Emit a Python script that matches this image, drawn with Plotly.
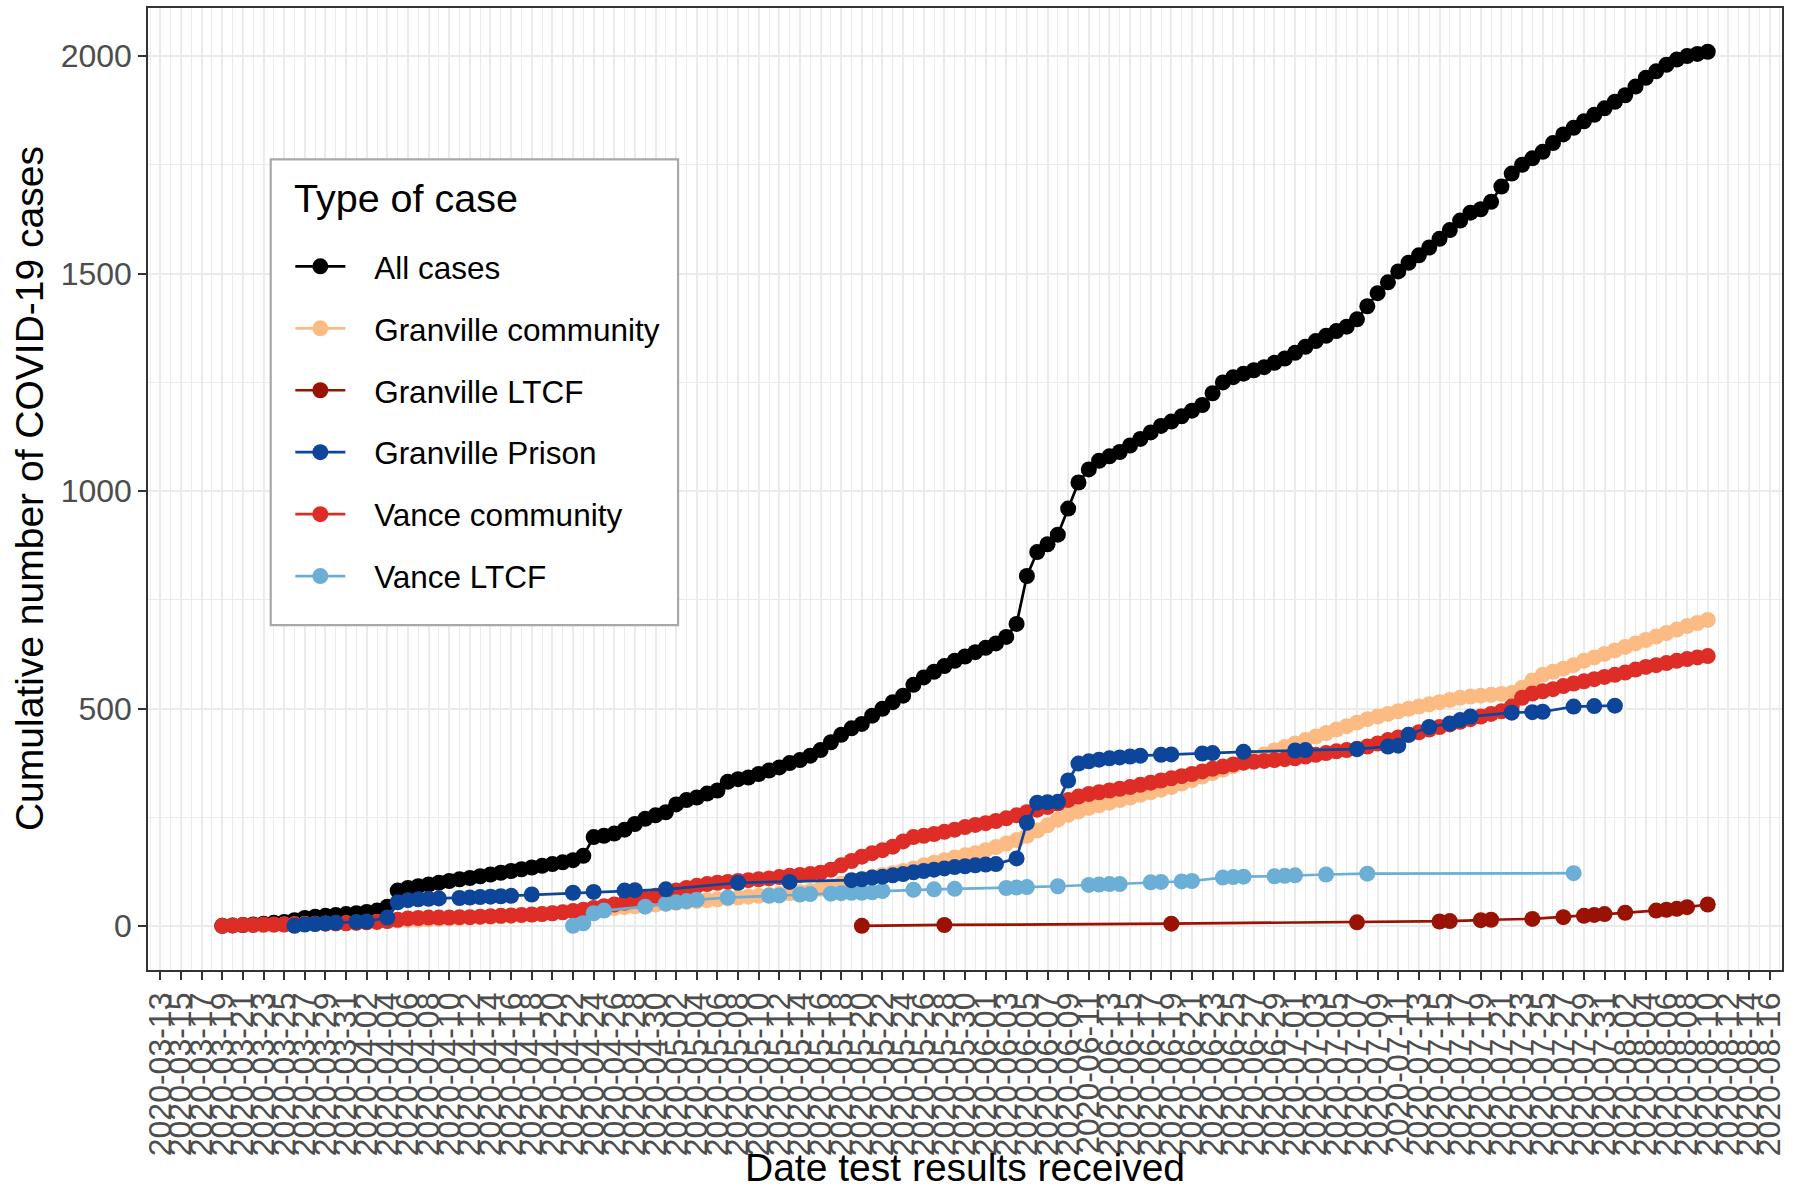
import pandas as pd
import plotly.graph_objects as go

# ---------------- data ----------------
ALL_START = "2020-03-19"   # daily points
ALL_CASES = [
    1, 2, 3, 4, 6, 8, 10, 14, 19, 22,
    24, 26, 28, 30, 33, 36, 45, 82, 88, 92,
    96, 100, 104, 108, 111, 115, 119, 123, 127, 131,
    135, 139, 143, 147, 152, 162, 205, 208, 213, 222,
    235, 247, 255, 262, 280, 290, 296, 305, 312, 332,
    338, 342, 350, 358, 365, 375, 382, 392, 405, 423,
    440, 455, 465, 484, 500, 515, 530, 555, 572, 585,
    598, 610, 620, 630, 640, 650, 665, 695, 805, 860,
    878, 900, 960, 1020, 1050, 1070, 1080, 1090, 1105, 1120,
    1135, 1150, 1160, 1172, 1185, 1198, 1225, 1250, 1262, 1270,
    1278, 1285, 1295, 1305, 1318, 1332, 1345, 1357, 1368, 1378,
    1395, 1425, 1455, 1480, 1505, 1525, 1542, 1560, 1580, 1600,
    1622, 1640, 1648, 1665, 1700, 1730, 1750, 1765, 1780, 1800,
    1820, 1835, 1850, 1865, 1880, 1895, 1910, 1930, 1950, 1965,
    1980, 1992, 2000, 2005, 2010,
]

VANCE_COMMUNITY_START = "2020-03-19"   # daily points
VANCE_COMMUNITY = [
    1, 2, 3, 3, 4, 4, 4, 5, 5, 6,
    6, 7, 7, 8, 9, 10, 12, 15, 18, 19,
    20, 20, 20, 21, 21, 22, 23, 24, 25, 26,
    27, 28, 30, 32, 35, 38, 42, 46, 50, 54,
    58, 63, 70, 76, 82, 88, 93, 97, 100, 102,
    104, 106, 108, 110, 113, 116, 118, 120, 123, 130,
    140, 150, 160, 168, 175, 183, 195, 205, 208, 212,
    217, 222, 228, 233, 237, 242, 248, 255, 262, 268,
    274, 282, 290, 298, 304, 308, 312, 316, 320, 325,
    330, 335, 340, 345, 350, 356, 362, 367, 372, 376,
    378, 380, 382, 384, 386, 390, 394, 398, 402, 405,
    408, 413, 420, 428, 434, 440, 446, 452, 458, 464,
    470, 476, 482, 488, 494, 505, 525, 535, 540, 545,
    552, 558, 563, 568, 573, 578, 583, 590, 596, 600,
    605, 610, 614, 618, 621,
]

GRANVILLE_COMMUNITY_START = "2020-03-23"   # daily points
GRANVILLE_COMMUNITY = [
    2, 3, 4, 4, 5, 5, 6, 6, 7, 8,
    9, 10, 12, 13, 14, 15, 16, 17, 18, 19,
    20, 21, 22, 23, 24, 25, 26, 28, 30, 32,
    34, 36, 38, 40, 42, 44, 46, 48, 50, 52,
    54, 56, 58, 60, 62, 64, 66, 68, 70, 72,
    74, 76, 78, 81, 86, 92, 98, 103, 108, 113,
    118, 122, 127, 133, 140, 146, 152, 158, 163, 168,
    175, 182, 190, 198, 208, 220, 232, 245, 256, 264,
    272, 278, 284, 290, 296, 302, 308, 314, 320, 328,
    336, 344, 352, 360, 368, 376, 386, 395, 404, 412,
    420, 428, 436, 444, 452, 460, 468, 476, 482, 488,
    494, 500, 505, 510, 515, 520, 525, 528, 530, 532,
    534, 536, 548, 565, 578, 585, 592, 600, 610, 618,
    626, 634, 642, 650, 658, 666, 674, 682, 690, 697,
    704,
]

GRANVILLE_LTCF_DATES = [
    "2020-05-20", "2020-05-28", "2020-06-19", "2020-07-07", "2020-07-15",
    "2020-07-16", "2020-07-19", "2020-07-20", "2020-07-24", "2020-07-27",
    "2020-07-29", "2020-07-30", "2020-07-31", "2020-08-02", "2020-08-05",
    "2020-08-06", "2020-08-07", "2020-08-08", "2020-08-10",
]
GRANVILLE_LTCF = [1, 3, 6, 9, 11, 12, 14, 15, 17, 21, 24, 26, 28, 31, 36, 38, 40, 44, 50]

GRANVILLE_PRISON_DATES = [
    "2020-03-26", "2020-03-27", "2020-03-28", "2020-03-29", "2020-03-30",
    "2020-04-01", "2020-04-02", "2020-04-04", "2020-04-05", "2020-04-06",
    "2020-04-07", "2020-04-08", "2020-04-09", "2020-04-11", "2020-04-12",
    "2020-04-13", "2020-04-14", "2020-04-15", "2020-04-16", "2020-04-18",
    "2020-04-22", "2020-04-24", "2020-04-27", "2020-04-28", "2020-05-01",
    "2020-05-08", "2020-05-13", "2020-05-19", "2020-05-20", "2020-05-21",
    "2020-05-22", "2020-05-23", "2020-05-24", "2020-05-25", "2020-05-26",
    "2020-05-27", "2020-05-28", "2020-05-29", "2020-05-30", "2020-05-31",
    "2020-06-01", "2020-06-02", "2020-06-04", "2020-06-05", "2020-06-06",
    "2020-06-07", "2020-06-08", "2020-06-09", "2020-06-10", "2020-06-11",
    "2020-06-12", "2020-06-13", "2020-06-14", "2020-06-15", "2020-06-16",
    "2020-06-18", "2020-06-19", "2020-06-22", "2020-06-23", "2020-06-26",
    "2020-07-01", "2020-07-02", "2020-07-07", "2020-07-10", "2020-07-11",
    "2020-07-12", "2020-07-14", "2020-07-16", "2020-07-17", "2020-07-18",
    "2020-07-22", "2020-07-24", "2020-07-25", "2020-07-28", "2020-07-30",
    "2020-08-01",
]
GRANVILLE_PRISON = [
    1, 4, 5, 7, 8, 10, 11, 20, 55, 60,
    62, 63, 64, 65, 66, 67, 68, 69, 70, 73,
    77, 79, 82, 83, 85, 100, 102, 106, 108, 112,
    114, 117, 120, 124, 127, 130, 133, 136, 138, 140,
    142, 143, 156, 238, 284, 285, 286, 335, 374, 379,
    383, 386, 388, 390, 392, 394, 395, 397, 398, 401,
    404, 405, 407, 413, 415, 440, 458, 466, 474, 482,
    491, 492, 493, 505, 506, 507,
]

VANCE_LTCF_DATES = [
    "2020-04-22", "2020-04-23", "2020-04-24", "2020-04-25", "2020-04-29",
    "2020-05-01", "2020-05-02", "2020-05-03", "2020-05-04", "2020-05-07",
    "2020-05-11", "2020-05-12", "2020-05-14", "2020-05-15", "2020-05-17",
    "2020-05-18", "2020-05-19", "2020-05-20", "2020-05-21", "2020-05-22",
    "2020-05-25", "2020-05-27", "2020-05-29", "2020-06-03", "2020-06-04",
    "2020-06-05", "2020-06-08", "2020-06-11", "2020-06-12", "2020-06-13",
    "2020-06-14", "2020-06-17", "2020-06-18", "2020-06-20", "2020-06-21",
    "2020-06-24", "2020-06-25", "2020-06-26", "2020-06-29", "2020-06-30",
    "2020-07-01", "2020-07-04", "2020-07-08", "2020-07-28",
]
VANCE_LTCF = [
    1, 7, 30, 36, 45, 52, 55, 58, 61, 66,
    70, 71, 73, 74, 75, 76, 77, 77, 78, 81,
    84, 85, 86, 88, 89, 90, 92, 95, 96, 97,
    97, 101, 102, 103, 104, 112, 113, 114, 115, 116,
    117, 119, 121, 122,
]

LEGEND_TITLE = "Type of case"
LEGEND_ORDER = ["All cases", "Granville community", "Granville LTCF",
                "Granville Prison", "Vance community", "Vance LTCF"]
COLORS = {
    "All cases": "#000000",
    "Granville community": "#FDBB84",
    "Granville LTCF": "#9A1203",
    "Granville Prison": "#0C4599",
    "Vance community": "#DE2D26",
    "Vance LTCF": "#6BAED6",
}

FONT = "Liberation Sans, Arial, Helvetica, sans-serif"


def daily(start, values):
    return pd.date_range(start, periods=len(values), freq="D")


series = {
    "All cases": (daily(ALL_START, ALL_CASES), ALL_CASES),
    "Granville community": (daily(GRANVILLE_COMMUNITY_START, GRANVILLE_COMMUNITY), GRANVILLE_COMMUNITY),
    "Granville LTCF": (pd.to_datetime(GRANVILLE_LTCF_DATES), GRANVILLE_LTCF),
    "Granville Prison": (pd.to_datetime(GRANVILLE_PRISON_DATES), GRANVILLE_PRISON),
    "Vance community": (daily(VANCE_COMMUNITY_START, VANCE_COMMUNITY), VANCE_COMMUNITY),
    "Vance LTCF": (pd.to_datetime(VANCE_LTCF_DATES), VANCE_LTCF),
}

DRAW_ORDER = ["All cases", "Granville community", "Granville LTCF",
              "Vance community", "Vance LTCF", "Granville Prison"]

fig = go.Figure()
for name in DRAW_ORDER:
    xs, ys = series[name]
    fig.add_trace(go.Scatter(
        x=xs, y=ys, name="\u00a0\u00a0\u2009" + name, mode="lines+markers",
        line=dict(color=COLORS[name], width=2.7),
        marker=dict(color=COLORS[name], size=16),
        legendgroup=name, legendrank=LEGEND_ORDER.index(name) + 1,
    ))

# axis ranges with ggplot-like 5% expansion
all_x = pd.concat([pd.Series(v[0]) for v in series.values()])
xmin, xmax = all_x.min(), all_x.max()
span = xmax - xmin
x_range = [xmin - span * 0.05, xmax + span * 0.05]
ymax = max(max(v[1]) for v in series.values())
ymin = 0
y_range = [ymin - 0.05 * (ymax - ymin), ymax + 0.05 * (ymax - ymin)]

DAY_MS = 86400000
fig.update_layout(
    width=1810, height=1193,
    margin=dict(l=148, r=28, t=8, b=223),
    paper_bgcolor="white", plot_bgcolor="white",
    font=dict(family=FONT, color="black"),
    showlegend=True,
    legend=dict(
        x=0.0871, y=0.7595, xanchor="left", yanchor="top",
        bgcolor="rgba(0,0,0,0)", borderwidth=0,
        font=dict(size=31.5, family=FONT, color="black"),
        itemwidth=50, tracegroupgap=18, traceorder="grouped",
    ),
    xaxis=dict(
        type="date", range=x_range, automargin=False,
        tick0="2020-03-13", dtick=2 * DAY_MS, tickformat="%Y-%m-%d",
        tickangle=-90, ticks="outside", ticklen=8, tickwidth=1.5, tickcolor="#333333",
        tickfont=dict(size=32, color="#4D4D4D", family=FONT),
        showgrid=True, gridcolor="#EBEBEB", gridwidth=2.4,
        minor=dict(tick0="2020-03-13", dtick=DAY_MS, showgrid=True,
                   gridcolor="#EBEBEB", gridwidth=1.2),
        showline=True, linecolor="#333333", linewidth=1.5, mirror=True,
        zeroline=False,
    ),
    yaxis=dict(
        range=y_range, tick0=0, dtick=500, automargin=False,
        ticks="outside", ticklen=8, tickwidth=1.5, tickcolor="#333333",
        tickfont=dict(size=32, color="#4D4D4D", family=FONT),
        showgrid=True, gridcolor="#EBEBEB", gridwidth=2.4,
        minor=dict(dtick=250, showgrid=True, gridcolor="#EBEBEB", gridwidth=1.2),
        showline=True, linecolor="#333333", linewidth=1.5, mirror=True,
        zeroline=False,
    ),
    shapes=[
        # legend frame
        dict(type="rect", xref="paper", yref="paper",
             x0=0.0751, x1=0.3244, y0=0.3586, y1=0.8427,
             line=dict(color="#A8A8A8", width=2.2), fillcolor="white", layer="above"),
    ],
    annotations=[
        dict(text=LEGEND_TITLE, xref="paper", yref="paper",
             x=0.0879, y=0.8025, xanchor="left", yanchor="middle", showarrow=False,
             font=dict(size=39.5, color="black", family=FONT)),
        dict(text="Date test results received", xref="paper", yref="paper",
             x=0.5, y=-0.2058, xanchor="center", yanchor="middle", showarrow=False,
             font=dict(size=39, color="black", family=FONT)),
        dict(text="Cumulative number of COVID-19 cases", xref="paper", yref="paper",
             x=-0.0728, y=0.5, xanchor="center", yanchor="middle", showarrow=False,
             textangle=-90, font=dict(size=39, color="black", family=FONT)),
    ],
)

fig.write_html(
    "out.html",
    config={"displayModeBar": False},
    post_script="document.body.style.margin='0';document.body.style.padding='0';",
)
